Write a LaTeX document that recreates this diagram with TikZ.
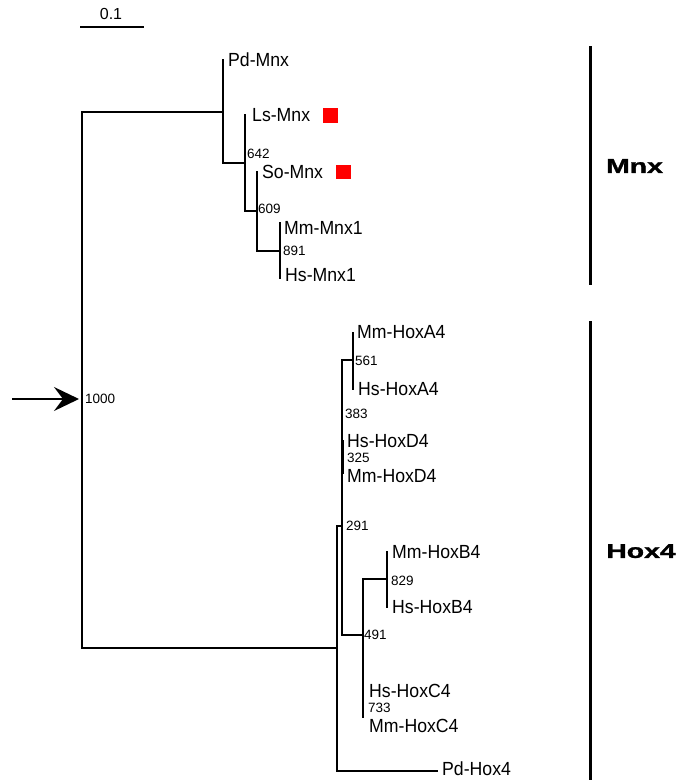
\documentclass[tikz,border=0pt]{standalone}
\usepackage{fontspec}
\setmainfont{Liberation Sans}
\newfontfamily\heavyfont[FakeBold=1.2]{Liberation Sans Bold}
\usepackage{graphicx}
\usetikzlibrary{arrows.meta}
\newcommand\narrowlab[1]{\scalebox{0.93}[1]{#1}}
\tikzset{
  branch/.style={line width=1.3pt, line join=miter, line cap=rect},
  thickbranch/.style={line width=3pt},
  cladebar/.style={line width=3pt},
  leaf/.style={anchor=west, inner sep=0pt, text depth=0pt, font=\fontsize{19}{20}\selectfont},
  boot/.style={anchor=west, inner sep=0pt, text depth=0pt, font=\fontsize{13.5}{14}\selectfont},
  clade/.style={inner sep=0pt, text depth=0pt, font=\heavyfont\fontsize{20}{20}\selectfont},
  marker/.style={fill={rgb,255:red,255;green,0;blue,0}, draw=none}
}
\begin{document}
\begin{tikzpicture}[x=1pt,y=-1pt]
\useasboundingbox (0,0) rectangle (680,780);

% scale bar
\coordinate (sbL) at (81,27);
\coordinate (sbR) at (143,27);
\draw[branch] (sbL) -- (sbR);
\node[inner sep=0pt, font=\fontsize{16}{18}\selectfont, text depth=0pt] (sblab) at (111,14) {0.1};

% root
\coordinate (R1) at (82,112);
\coordinate (R2) at (82,648);
\draw[branch] (R1) -- (R2);

% Mnx clade
\coordinate (nM) at (223,112);
\coordinate (nLSM) at (245,163);
\coordinate (nSM) at (257,211);
\coordinate (nMnx1) at (280,251);
\coordinate (tPd) at (223,60);
\coordinate (tLs) at (245,115);
\coordinate (tSo) at (257,172);
\coordinate (tMm1) at (280,223);
\coordinate (tHs1) at (280,278);
\draw[branch] (R1) -- (nM);
\draw[branch] (tPd) |- (nLSM);
\draw[branch] (tLs) |- (nSM);
\draw[branch] (tSo) |- (nMnx1);
\draw[branch] (tMm1) -- (tHs1);

% Hox4 clade
\coordinate (hB0) at (337,648);
\coordinate (n291) at (337,526);
\coordinate (n291r) at (342,526);
\coordinate (tPdHox) at (437,771);
\coordinate (h1top) at (342,360);
\coordinate (h1bot) at (342,635);
\coordinate (nA4) at (353,360);
\coordinate (tMmA4) at (353,333);
\coordinate (tHsA4) at (353,389);
\coordinate (tHsD4) at (342,440);
\coordinate (tMmD4) at (342,474);
\coordinate (n491) at (363,635);
\coordinate (n491top) at (363,579);
\coordinate (tMmC4) at (363,717);
\coordinate (nB4) at (387,579);
\coordinate (tMmB4) at (387,552);
\coordinate (tHsB4) at (387,607);
\draw[branch] (R2) -- (hB0);
\draw[branch] (n291) |- (tPdHox);
\draw[branch] (n291) -- (n291r);
\draw[branch] (h1top) -- (h1bot);
\draw[branch] (h1top) -- (nA4);
\draw[branch] (tMmA4) -- (tHsA4);
\draw[thickbranch] (tHsD4) -- (tMmD4);
\draw[branch] (h1bot) -- (n491);
\draw[branch] (n491top) -- (tMmC4);
\draw[branch] (n491top) -- (nB4);
\draw[branch] (tMmB4) -- (tHsB4);

% leaf labels
\node[leaf] (lPdMnx) at (228,60) {\narrowlab{Pd-Mnx}};
\node[leaf] (lLsMnx) at (252,115) {\narrowlab{Ls-Mnx}};
\node[leaf] (lSoMnx) at (262,172) {\narrowlab{So-Mnx}};
\node[leaf] (lMmMnx1) at (284,228) {\narrowlab{Mm-Mnx1}};
\node[leaf] (lHsMnx1) at (285,275) {\narrowlab{Hs-Mnx1}};
\node[leaf] (lMmHoxA4) at (357,332) {\narrowlab{Mm-HoxA4}};
\node[leaf] (lHsHoxA4) at (358,389) {\narrowlab{Hs-HoxA4}};
\node[leaf] (lHsHoxD4) at (347,441) {\narrowlab{Hs-HoxD4}};
\node[leaf] (lMmHoxD4) at (347,476) {\narrowlab{Mm-HoxD4}};
\node[leaf] (lMmHoxB4) at (392,552) {\narrowlab{Mm-HoxB4}};
\node[leaf] (lHsHoxB4) at (392,607) {\narrowlab{Hs-HoxB4}};
\node[leaf] (lHsHoxC4) at (369,691) {\narrowlab{Hs-HoxC4}};
\node[leaf] (lMmHoxC4) at (369,726) {\narrowlab{Mm-HoxC4}};
\node[leaf] (lPdHox4) at (442,769) {\narrowlab{Pd-Hox4}};

% red markers
\fill[marker] (323,108) rectangle (338,123);
\fill[marker] (336,165) rectangle (351,179);

% bootstrap values
\node[boot] (b1000) at (85,399) {1000};
\node[boot] (b642) at (247,154) {642};
\node[boot] (b609) at (258,209) {609};
\node[boot] (b891) at (283,251) {891};
\node[boot] (b561) at (355,361) {561};
\node[boot] (b383) at (345,414) {383};
\node[boot] (b325) at (347,458) {325};
\node[boot] (b291) at (346,526) {291};
\node[boot] (b829) at (391,581) {829};
\node[boot] (b491) at (364,635) {491};
\node[boot] (b733) at (368,708) {733};

% arrow to root
\coordinate (arrS) at (12,399);
\coordinate (arrE) at (79,399);
\draw[line width=1.5pt, -{Stealth[length=25pt,width=24pt,inset=9pt]}] (arrS) -- (arrE);

% clade bars
\coordinate (mnxTop) at (590,46);
\coordinate (mnxBot) at (590,285);
\coordinate (hoxTop) at (590,321);
\coordinate (hoxBot) at (590,780);
\draw[cladebar] (mnxTop) -- (mnxBot);
\draw[cladebar] (hoxTop) -- (hoxBot);
\node[clade] (cMnx) at (634.5,166) {\scalebox{1.42}[1]{Mnx}};
\node[clade] (cHox) at (641,551) {\scalebox{1.42}[1]{Hox4}};
\end{tikzpicture}
\end{document}
